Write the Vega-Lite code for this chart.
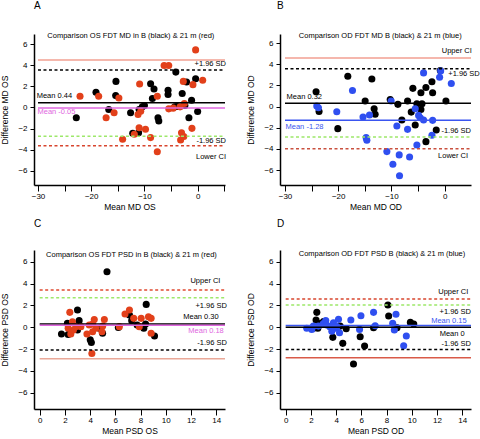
{
 "$schema": "https://vega.github.io/schema/vega-lite/v6.json",
 "padding": {"left": 0, "top": 0, "right": 0, "bottom": 0},
 "bounds": "flush",
 "columns": 2,
 "spacing": {"row": 65, "column": 55},
 "resolve": {"scale": {"fill": "independent", "stroke": "independent", "color": "independent", "strokeDash": "independent"}},
 "datasets": {
  "pA": [
   {"x":-22.8,"y":-0.97,"g":"B"},{"x":-19.1,"y":1.44,"g":"B"},{"x":-16.7,"y":-0.19,"g":"B"},{"x":-15.35,"y":2.48,"g":"B"},{"x":-15.4,"y":1.13,"g":"B"},{"x":-12.6,"y":-0.5,"g":"B"},{"x":-12.2,"y":-2.45,"g":"B"},{"x":-11.1,"y":-2.39,"g":"B"},{"x":-10.4,"y":0.06,"g":"B"},{"x":-11.0,"y":-0.19,"g":"B"},{"x":-8.84,"y":2.26,"g":"B"},{"x":-8.2,"y":1.76,"g":"B"},{"x":-8.5,"y":0.85,"g":"B"},{"x":-7.45,"y":-0.97,"g":"B"},{"x":-7.3,"y":-1.29,"g":"B"},{"x":-5.56,"y":1.63,"g":"B"},{"x":-5.56,"y":1.23,"g":"B"},{"x":-4.1,"y":3.36,"g":"B"},{"x":-4.3,"y":0.06,"g":"B"},{"x":-2.9,"y":1.33,"g":"B"},{"x":-2.08,"y":2.42,"g":"B"},{"x":-2.4,"y":0.19,"g":"B"},{"x":-1.64,"y":-0.97,"g":"B"},{"x":-1.14,"y":0.69,"g":"B"},{"x":-0.38,"y":2.73,"g":"B"},{"x":0.0,"y":-0.38,"g":"B"},{"x":-3.9,"y":0.1,"g":"B"},{"x":-10.0,"y":0.19,"g":"B"},
   {"x":-22.1,"y":1.07,"g":"21"},{"x":-18.6,"y":1.07,"g":"21"},{"x":-17.2,"y":-0.97,"g":"21"},{"x":-15.7,"y":-0.5,"g":"21"},{"x":-14.8,"y":0.91,"g":"21"},{"x":-14.1,"y":-3.02,"g":"21"},{"x":-11.9,"y":-2.54,"g":"21"},{"x":-10.9,"y":2.23,"g":"21"},{"x":-11.0,"y":-1.92,"g":"21"},{"x":-11.2,"y":-0.66,"g":"21"},{"x":-10.7,"y":-0.35,"g":"21"},{"x":-9.8,"y":-2.07,"g":"21"},{"x":-8.84,"y":-2.86,"g":"21"},{"x":-7.58,"y":1.07,"g":"21"},{"x":-7.58,"y":-4.21,"g":"21"},{"x":-6.3,"y":3.99,"g":"21"},{"x":-5.43,"y":3.99,"g":"21"},{"x":-5.43,"y":-0.13,"g":"21"},{"x":-4.6,"y":-0.06,"g":"21"},{"x":-3.03,"y":-2.39,"g":"21"},{"x":-3.2,"y":-3.08,"g":"21"},{"x":-2.6,"y":-2.76,"g":"21"},{"x":-2.7,"y":2.48,"g":"21"},{"x":-2.5,"y":0.38,"g":"21"},{"x":-0.88,"y":2.17,"g":"21"},{"x":-1.07,"y":-1.98,"g":"21"},{"x":-0.38,"y":5.47,"g":"21"},{"x":0.95,"y":2.58,"g":"21"},{"x":-3.3,"y":0.06,"g":"21"}
  ],
  "lA": [
   {"x":-30,"xe":5.14,"y":4.51,"s":"ci"},{"x":-30,"xe":5.14,"y":3.56,"s":"sdb"},{"x":-30,"xe":5.14,"y":0.44,"s":"mb"},{"x":-30,"xe":5.14,"y":-0.05,"s":"m21"},{"x":-30,"xe":5.14,"y":-2.72,"s":"sd21"},{"x":-30,"xe":5.14,"y":-3.64,"s":"cid"}
  ],
  "tlA": [
   {"x":-30.25,"y":1.1,"t":"Mean 0.44","w":"b"},{"x":-30.1,"y":-0.47,"t":"Mean -0.05","w":"21"}
  ],
  "trA": [
   {"x":5.33,"y":4.1,"t":"+1.96 SD","w":"b"},{"x":5.33,"y":-3.22,"t":"-1.96 SD","w":"b"},{"x":5.33,"y":-4.68,"t":"Lower CI","w":"b"}
  ],
  "hA": [{"x":-12.55,"y":6.79,"t":"Comparison OS FDT MD in B (black) & 21 m (red)"}],
  "pB": [
   {"x":-24.16,"y":1.39,"g":"B"},{"x":-23.6,"y":-0.46,"g":"B"},{"x":-20.08,"y":-2.08,"g":"B"},{"x":-18.2,"y":2.86,"g":"B"},{"x":-14.94,"y":0.52,"g":"B"},{"x":-13.68,"y":2.61,"g":"B"},{"x":-13.25,"y":-0.2,"g":"B"},{"x":-13.06,"y":-0.73,"g":"B"},{"x":-10.23,"y":0.67,"g":"B"},{"x":-8.79,"y":0.21,"g":"B"},{"x":-8.04,"y":-1.27,"g":"B"},{"x":-6.97,"y":0.52,"g":"B"},{"x":-5.97,"y":1.72,"g":"B"},{"x":-6.28,"y":-0.52,"g":"B"},{"x":-5.53,"y":-1.74,"g":"B"},{"x":-5.22,"y":0.27,"g":"B"},{"x":-4.46,"y":1.3,"g":"B"},{"x":-4.46,"y":-0.27,"g":"B"},{"x":-4.26,"y":0.27,"g":"B"},{"x":-3.52,"y":1.8,"g":"B"},{"x":-3.52,"y":-3.31,"g":"B"},{"x":-2.39,"y":2.35,"g":"B"},{"x":-2.26,"y":1.3,"g":"B"},{"x":-1.58,"y":-2.21,"g":"B"},{"x":-0.82,"y":3.4,"g":"B"},{"x":0.24,"y":0.52,"g":"B"},
   {"x":-24.03,"y":0.05,"g":"21"},{"x":-23.72,"y":-0.11,"g":"21"},{"x":-20.27,"y":-0.49,"g":"21"},{"x":-17.32,"y":1.52,"g":"21"},{"x":-15.34,"y":-0.99,"g":"21"},{"x":-14.12,"y":-0.8,"g":"21"},{"x":-14.75,"y":-2.93,"g":"21"},{"x":-14.62,"y":-3.18,"g":"21"},{"x":-10.05,"y":0.52,"g":"21"},{"x":-10.86,"y":-4.25,"g":"21"},{"x":-9.73,"y":-5.44,"g":"21"},{"x":-8.98,"y":-1.83,"g":"21"},{"x":-8.54,"y":-4.56,"g":"21"},{"x":-8.48,"y":-6.53,"g":"21"},{"x":-6.97,"y":-2.15,"g":"21"},{"x":-6.59,"y":-4.75,"g":"21"},{"x":-5.53,"y":-0.2,"g":"21"},{"x":-5.22,"y":-3.62,"g":"21"},{"x":-4.9,"y":-0.83,"g":"21"},{"x":-4.59,"y":-1.05,"g":"21"},{"x":-3.96,"y":3.18,"g":"21"},{"x":-3.96,"y":-1.27,"g":"21"},{"x":-2.26,"y":-1.3,"g":"21"},{"x":-2.39,"y":-2.71,"g":"21"},{"x":-0.95,"y":2.77,"g":"21"},{"x":-0.75,"y":3.35,"g":"21"},{"x":1.25,"y":2.18,"g":"21"}
  ],
  "lB": [
   {"x":-30,"xe":4.95,"y":4.59,"s":"ci"},{"x":-30,"xe":4.95,"y":3.56,"s":"sdb"},{"x":-30,"xe":4.95,"y":0.32,"s":"mb"},{"x":-30,"xe":4.95,"y":-1.28,"s":"m21"},{"x":-30,"xe":4.95,"y":-2.88,"s":"sd21"},{"x":-30,"xe":4.95,"y":-3.97,"s":"cid"}
  ],
  "tlB": [
   {"x":-29.7,"y":0.89,"t":"Mean 0.32","w":"b"},{"x":-29.9,"y":-1.9,"t":"Mean -1.28","w":"21"}
  ],
  "trB": [
   {"x":5.1,"y":5.28,"t":"Upper CI","w":"b"},{"x":6.6,"y":3.08,"t":"+1.96 SD","w":"b"},{"x":4.95,"y":-2.3,"t":"-1.96 SD","w":"b"},{"x":4.4,"y":-4.65,"t":"Lower CI","w":"b"}
  ],
  "hB": [{"x":-12.1,"y":6.62,"t":"Comparison OD FDT MD B (black) & 21 m (blue)"}],
  "pC": [
   {"x":1.73,"y":-0.63,"g":"B"},{"x":2.26,"y":-0.66,"g":"B"},{"x":2.2,"y":0.35,"g":"B"},{"x":3.0,"y":1.57,"g":"B"},{"x":3.13,"y":0.6,"g":"B"},{"x":4.01,"y":-1.15,"g":"B"},{"x":4.1,"y":-1.4,"g":"B"},{"x":5.34,"y":5.08,"g":"B"},{"x":4.73,"y":-0.1,"g":"B"},{"x":7.12,"y":1.11,"g":"B"},{"x":6.24,"y":-0.02,"g":"B"},{"x":7.73,"y":0.2,"g":"B"},{"x":8.26,"y":-0.1,"g":"B"},{"x":8.45,"y":2.09,"g":"B"},{"x":9.11,"y":-0.81,"g":"B"},{"x":7.3,"y":0.6,"g":"B"},{"x":8.4,"y":0.3,"g":"B"},{"x":4.99,"y":-0.56,"g":"B"},{"x":3.0,"y":-0.26,"g":"B"},
   {"x":2.39,"y":1.36,"g":"21"},{"x":2.6,"y":0.5,"g":"21"},{"x":2.47,"y":-0.63,"g":"21"},{"x":2.68,"y":-0.26,"g":"21"},{"x":2.87,"y":0.05,"g":"21"},{"x":2.26,"y":-0.1,"g":"21"},{"x":3.75,"y":-0.63,"g":"21"},{"x":3.93,"y":0.2,"g":"21"},{"x":4.14,"y":-2.4,"g":"21"},{"x":4.2,"y":-0.41,"g":"21"},{"x":4.33,"y":0.7,"g":"21"},{"x":4.46,"y":-0.1,"g":"21"},{"x":4.94,"y":-0.41,"g":"21"},{"x":5.13,"y":0.7,"g":"21"},{"x":5.0,"y":0.1,"g":"21"},{"x":6.32,"y":0.05,"g":"21"},{"x":6.77,"y":1.21,"g":"21"},{"x":7.12,"y":1.57,"g":"21"},{"x":7.46,"y":0.81,"g":"21"},{"x":8.05,"y":0.81,"g":"21"},{"x":7.9,"y":0.05,"g":"21"},{"x":8.63,"y":0.96,"g":"21"},{"x":8.84,"y":0.81,"g":"21"},{"x":8.84,"y":-0.56,"g":"21"},{"x":4.2,"y":0.3,"g":"21"},{"x":3.27,"y":0.05,"g":"21"}
  ],
  "lC": [
   {"x":0,"xe":14.7,"y":3.4,"s":"cid"},{"x":0,"xe":14.7,"y":2.7,"s":"sd21"},{"x":0,"xe":14.7,"y":0.3,"s":"mb"},{"x":0,"xe":14.7,"y":0.18,"s":"m21"},{"x":0,"xe":14.7,"y":-2.09,"s":"sdb"},{"x":0,"xe":14.7,"y":-2.88,"s":"ci"}
  ],
  "trC": [
   {"x":14.34,"y":4.26,"t":"Upper CI","w":"b"},{"x":14.85,"y":1.97,"t":"+1.96 SD","w":"b"},{"x":14.2,"y":0.9,"t":"Mean 0.30","w":"b"},{"x":14.6,"y":-0.35,"t":"Mean 0.18","w":"21"},{"x":14.85,"y":-1.48,"t":"-1.96 SD","w":"b"}
  ],
  "hC": [{"x":7.28,"y":6.6,"t":"Comparison OS FDT PSD in B (black) & 21 m (red)"}],
  "pD": [
   {"x":2.47,"y":1.36,"g":"B"},{"x":2.41,"y":0.66,"g":"B"},{"x":2.2,"y":-0.1,"g":"B"},{"x":2.73,"y":0.33,"g":"B"},{"x":3.0,"y":0.53,"g":"B"},{"x":3.74,"y":-0.93,"g":"B"},{"x":4.53,"y":-1.48,"g":"B"},{"x":4.8,"y":-0.13,"g":"B"},{"x":4.32,"y":0.1,"g":"B"},{"x":5.38,"y":-3.37,"g":"B"},{"x":5.91,"y":-0.87,"g":"B"},{"x":6.26,"y":-1.72,"g":"B"},{"x":6.97,"y":-0.05,"g":"B"},{"x":8.11,"y":2.03,"g":"B"},{"x":8.17,"y":1.02,"g":"B"},{"x":8.83,"y":-0.05,"g":"B"},{"x":9.89,"y":0.44,"g":"B"},{"x":10.16,"y":0.29,"g":"B"},{"x":2.55,"y":-0.1,"g":"B"},
   {"x":1.67,"y":-0.1,"g":"21"},{"x":2.07,"y":-0.2,"g":"21"},{"x":2.6,"y":0.1,"g":"21"},{"x":3.18,"y":0.61,"g":"21"},{"x":2.99,"y":0.33,"g":"21"},{"x":3.5,"y":0.05,"g":"21"},{"x":3.79,"y":0.4,"g":"21"},{"x":3.92,"y":-0.1,"g":"21"},{"x":4.19,"y":0.72,"g":"21"},{"x":4.27,"y":-0.5,"g":"21"},{"x":3.66,"y":-0.36,"g":"21"},{"x":4.06,"y":0.05,"g":"21"},{"x":5.17,"y":0.66,"g":"21"},{"x":5.86,"y":-0.2,"g":"21"},{"x":5.97,"y":1.05,"g":"21"},{"x":6.97,"y":1.36,"g":"21"},{"x":7.1,"y":0.14,"g":"21"},{"x":8.75,"y":1.18,"g":"21"},{"x":8.49,"y":0.36,"g":"21"},{"x":8.62,"y":-0.26,"g":"21"},{"x":9.57,"y":-0.81,"g":"21"},{"x":9.36,"y":-1.69,"g":"21"},{"x":2.2,"y":0.1,"g":"21"},{"x":3.25,"y":0.2,"g":"21"}
  ],
  "lD": [
   {"x":0,"xe":14.7,"y":2.58,"s":"cid"},{"x":0,"xe":14.7,"y":2.03,"s":"sd21"},{"x":0,"xe":14.7,"y":0.15,"s":"m21"},{"x":0,"xe":14.7,"y":0,"s":"mb"},{"x":0,"xe":14.7,"y":-2.05,"s":"sdb"},{"x":0,"xe":14.7,"y":-2.8,"s":"ci"}
  ],
  "trD": [
   {"x":14.48,"y":3.25,"t":"Upper CI","w":"b"},{"x":14.7,"y":1.42,"t":"+1.96 SD","w":"b"},{"x":14.35,"y":0.6,"t":"Mean 0.15","w":"21"},{"x":14.2,"y":-0.62,"t":"Mean 0","w":"b"},{"x":14.7,"y":-1.58,"t":"-1.96 SD","w":"b"}
  ],
  "hD": [{"x":7.64,"y":6.7,"t":"Comparison OD FDT PSD B (black) & 21 m (blue)"}]
 },
 "concat": [
  {
   "width": 191, "height": 151,
   "title": {"text": "A"},
   "encoding": {
    "x": {"field": "x", "type": "quantitative", "title": "Mean MD OS", "scale": {"domain": [-30.75, 5.14], "nice": false, "zero": false}, "axis": {"values": [-30,-25,-20,-15,-10,-5,0,5], "labelExpr": "datum.value % 10 === 0 ? datum.label : ''"}},
    "y": {"field": "y", "type": "quantitative", "title": "Difference MD OS", "scale": {"domain": [-7.36, 6.98], "nice": false, "zero": false}, "axis": {"values": [-6,-4,-2,0,2,4,6]}}
   },
   "layer": [
    {"data": {"name": "pA"}, "mark": {"type": "circle", "size": 50, "opacity": 1},
     "encoding": {"fill": {"field": "g", "type": "nominal", "scale": {"domain": ["B","21"], "range": ["#000000","#e2401a"]}, "legend": null}}},
    {"data": {"name": "lA"}, "mark": {"type": "rule", "strokeWidth": 1.5},
     "encoding": {"x2": {"field": "xe"},
      "stroke": {"field": "s", "type": "nominal", "scale": {"domain": ["ci","cid","sdb","sd21","mb","m21"], "range": ["#f2a092","#d8452e","#000000","#9de86a","#000000","#e066e0"]}, "legend": null},
      "strokeDash": {"field": "s", "type": "nominal", "scale": {"domain": ["ci","cid","sdb","sd21","mb","m21"], "range": [[1,0],[3,2.5],[3,2.5],[3,2.5],[1,0],[1,0]]}, "legend": null}}},
    {"data": {"name": "tlA"}, "mark": {"type": "text", "align": "left", "baseline": "middle"},
     "encoding": {"text": {"field": "t"}, "color": {"field": "w", "type": "nominal", "scale": {"domain": ["b","21"], "range": ["#000000","#e066e0"]}, "legend": null}}},
    {"data": {"name": "trA"}, "mark": {"type": "text", "align": "right", "baseline": "middle"},
     "encoding": {"text": {"field": "t"}, "color": {"field": "w", "type": "nominal", "scale": {"domain": ["b","21"], "range": ["#000000","#e066e0"]}, "legend": null}}},
    {"data": {"name": "hA"}, "mark": {"type": "text", "align": "center", "baseline": "middle", "color": "#000000"},
     "encoding": {"text": {"field": "t"}}}
   ]
  },
  {
   "width": 191, "height": 151,
   "title": {"text": "B", "dx": -3},
   "encoding": {
    "x": {"field": "x", "type": "quantitative", "title": "Mean MD OD", "scale": {"domain": [-30.94, 4.95], "nice": false, "zero": false}, "axis": {"values": [-30,-25,-20,-15,-10,-5,0], "labelExpr": "datum.value % 10 === 0 ? datum.label : ''"}},
    "y": {"field": "y", "type": "quantitative", "title": "Difference MD OD", "scale": {"domain": [-7.4, 6.85], "nice": false, "zero": false}, "axis": {"values": [-6,-4,-2,0,2,4,6]}}
   },
   "layer": [
    {"data": {"name": "pB"}, "mark": {"type": "circle", "size": 50, "opacity": 1},
     "encoding": {"fill": {"field": "g", "type": "nominal", "scale": {"domain": ["B","21"], "range": ["#000000","#2f4ff0"]}, "legend": null}}},
    {"data": {"name": "lB"}, "mark": {"type": "rule", "strokeWidth": 1.5},
     "encoding": {"x2": {"field": "xe"},
      "stroke": {"field": "s", "type": "nominal", "scale": {"domain": ["ci","cid","sdb","sd21","mb","m21"], "range": ["#f2a092","#c9513f","#000000","#9de86a","#000000","#3a55f0"]}, "legend": null},
      "strokeDash": {"field": "s", "type": "nominal", "scale": {"domain": ["ci","cid","sdb","sd21","mb","m21"], "range": [[1,0],[3,2.5],[3,2.5],[3,2.5],[1,0],[1,0]]}, "legend": null}}},
    {"data": {"name": "tlB"}, "mark": {"type": "text", "align": "left", "baseline": "middle"},
     "encoding": {"text": {"field": "t"}, "color": {"field": "w", "type": "nominal", "scale": {"domain": ["b","21"], "range": ["#000000","#3a55f0"]}, "legend": null}}},
    {"data": {"name": "trB"}, "mark": {"type": "text", "align": "right", "baseline": "middle"},
     "encoding": {"text": {"field": "t"}, "color": {"field": "w", "type": "nominal", "scale": {"domain": ["b","21"], "range": ["#000000","#3a55f0"]}, "legend": null}}},
    {"data": {"name": "hB"}, "mark": {"type": "text", "align": "center", "baseline": "middle", "color": "#000000"},
     "encoding": {"text": {"field": "t"}}}
   ]
  },
  {
   "width": 191, "height": 159,
   "title": {"text": "C"},
   "encoding": {
    "x": {"field": "x", "type": "quantitative", "title": "Mean PSD OS", "scale": {"domain": [-0.45, 14.7], "nice": false, "zero": false}, "axis": {"values": [0,2,4,6,8,10,12,14]}},
    "y": {"field": "y", "type": "quantitative", "title": "Difference PSD OS", "scale": {"domain": [-7.49, 7.07], "nice": false, "zero": false}, "axis": {"values": [-6,-4,-2,0,2,4,6]}}
   },
   "layer": [
    {"data": {"name": "pC"}, "mark": {"type": "circle", "size": 50, "opacity": 1},
     "encoding": {"fill": {"field": "g", "type": "nominal", "scale": {"domain": ["B","21"], "range": ["#000000","#e2401a"]}, "legend": null}}},
    {"data": {"name": "lC"}, "mark": {"type": "rule", "strokeWidth": 1.5},
     "encoding": {"x2": {"field": "xe"},
      "stroke": {"field": "s", "type": "nominal", "scale": {"domain": ["ci","cid","sdb","sd21","mb","m21"], "range": ["#eaa898","#e04a30","#000000","#9de86a","#000000","#e066e0"]}, "legend": null},
      "strokeDash": {"field": "s", "type": "nominal", "scale": {"domain": ["ci","cid","sdb","sd21","mb","m21"], "range": [[1,0],[3,2.5],[3,2.5],[3,2.5],[1,0],[1,0]]}, "legend": null}}},
    {"data": {"name": "trC"}, "mark": {"type": "text", "align": "right", "baseline": "middle"},
     "encoding": {"text": {"field": "t"}, "color": {"field": "w", "type": "nominal", "scale": {"domain": ["b","21"], "range": ["#000000","#e066e0"]}, "legend": null}}},
    {"data": {"name": "hC"}, "mark": {"type": "text", "align": "center", "baseline": "middle", "color": "#000000"},
     "encoding": {"text": {"field": "t"}}}
   ]
  },
  {
   "width": 191, "height": 159,
   "title": {"text": "D", "dx": -3},
   "encoding": {
    "x": {"field": "x", "type": "quantitative", "title": "Mean PSD OD", "scale": {"domain": [-0.45, 14.7], "nice": false, "zero": false}, "axis": {"values": [0,2,4,6,8,10,12,14]}},
    "y": {"field": "y", "type": "quantitative", "title": "Difference PSD OD", "scale": {"domain": [-7.49, 7.07], "nice": false, "zero": false}, "axis": {"values": [-6,-4,-2,0,2,4,6]}}
   },
   "layer": [
    {"data": {"name": "pD"}, "mark": {"type": "circle", "size": 50, "opacity": 1},
     "encoding": {"fill": {"field": "g", "type": "nominal", "scale": {"domain": ["B","21"], "range": ["#000000","#2f4ff0"]}, "legend": null}}},
    {"data": {"name": "lD"}, "mark": {"type": "rule", "strokeWidth": 1.5},
     "encoding": {"x2": {"field": "xe"},
      "stroke": {"field": "s", "type": "nominal", "scale": {"domain": ["ci","cid","sdb","sd21","mb","m21"], "range": ["#d95a48","#d8452e","#000000","#9de86a","#000000","#3a55f0"]}, "legend": null},
      "strokeDash": {"field": "s", "type": "nominal", "scale": {"domain": ["ci","cid","sdb","sd21","mb","m21"], "range": [[1,0],[3,2.5],[3,2.5],[3,2.5],[1,0],[1,0]]}, "legend": null}}},
    {"data": {"name": "trD"}, "mark": {"type": "text", "align": "right", "baseline": "middle"},
     "encoding": {"text": {"field": "t"}, "color": {"field": "w", "type": "nominal", "scale": {"domain": ["b","21"], "range": ["#000000","#3a55f0"]}, "legend": null}}},
    {"data": {"name": "hD"}, "mark": {"type": "text", "align": "center", "baseline": "middle", "color": "#000000"},
     "encoding": {"text": {"field": "t"}}}
   ]
  }
 ],
 "config": {
  "font": "Liberation Sans",
  "view": {"stroke": null},
  "axis": {"grid": false, "domainColor": "#000000", "domainWidth": 1.5, "tickColor": "#000000", "tickWidth": 1, "labelColor": "#000000", "titleColor": "#000000", "labelFontSize": 8, "titleFontSize": 8.5, "titleFontWeight": "normal", "labelFont": "Liberation Sans", "titleFont": "Liberation Sans"},
  "axisX": {"tickSize": 6, "labelPadding": 1, "titlePadding": 2},
  "axisY": {"tickSize": 4, "labelPadding": 3, "titleX": -25, "titleBaseline": "bottom"},
  "title": {"fontSize": 10, "fontWeight": "normal", "anchor": "start", "frame": "group", "baseline": "alphabetic", "offset": 21.5, "color": "#000000", "font": "Liberation Sans"},
  "text": {"fontSize": 7.5, "font": "Liberation Sans"}
 }
}
